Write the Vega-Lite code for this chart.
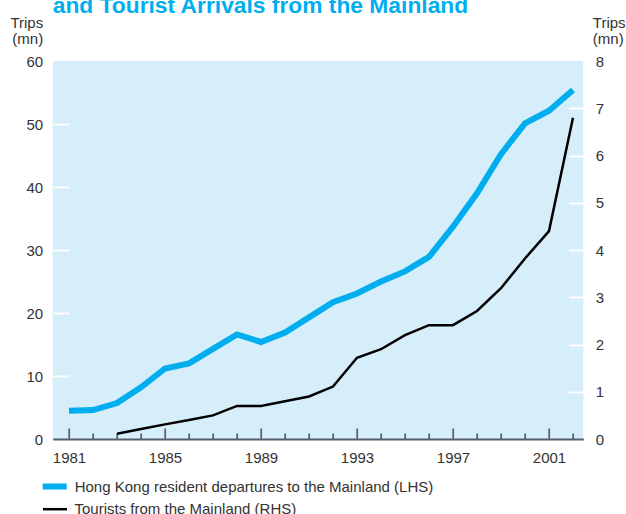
{
  "$schema": "https://vega.github.io/schema/vega-lite/v6.json",
  "width": 530.6,
  "height": 378,
  "autosize": {"type": "none"},
  "padding": {"left": 52.7, "top": 61, "right": 42.7, "bottom": 75},
  "background": "white",
  "title": {
    "text": "and Tourist Arrivals from the Mainland",
    "anchor": "start",
    "frame": "group",
    "font": "Liberation Sans",
    "fontSize": 22.8,
    "fontWeight": "bold",
    "color": "#00aeef",
    "dy": 7
  },
  "config": {
    "view": {"fill": "#d6edfa", "stroke": null},
    "font": "Liberation Sans",
    "axis": {"grid": false, "labelFont": "Liberation Sans", "labelFontSize": 15, "labelColor": "#333333", "titleFont": "Liberation Sans", "titleFontSize": 15, "titleFontWeight": "normal", "titleColor": "#333333"},
    "legend": {"labelFont": "Liberation Sans", "labelFontSize": 15, "labelColor": "#333333", "labelLimit": 600, "symbolType": "M-1.2,0H1.2", "symbolSize": 400, "title": null}
  },
  "data": {
    "values": [
      {"year": 1981, "hk": 4.5, "tour": null},
      {"year": 1982, "hk": 4.6, "tour": null},
      {"year": 1983, "hk": 5.7, "tour": 0.11},
      {"year": 1984, "hk": 8.2, "tour": 0.21},
      {"year": 1985, "hk": 11.2, "tour": 0.31},
      {"year": 1986, "hk": 12.0, "tour": 0.40},
      {"year": 1987, "hk": 14.3, "tour": 0.50},
      {"year": 1988, "hk": 16.6, "tour": 0.70},
      {"year": 1989, "hk": 15.4, "tour": 0.70},
      {"year": 1990, "hk": 16.9, "tour": 0.80},
      {"year": 1991, "hk": 19.3, "tour": 0.90},
      {"year": 1992, "hk": 21.7, "tour": 1.11},
      {"year": 1993, "hk": 23.1, "tour": 1.72},
      {"year": 1994, "hk": 25.0, "tour": 1.90},
      {"year": 1995, "hk": 26.6, "tour": 2.20},
      {"year": 1996, "hk": 28.9, "tour": 2.41},
      {"year": 1997, "hk": 33.7, "tour": 2.41},
      {"year": 1998, "hk": 39.0, "tour": 2.71},
      {"year": 1999, "hk": 45.2, "tour": 3.19},
      {"year": 2000, "hk": 50.1, "tour": 3.82},
      {"year": 2001, "hk": 52.1, "tour": 4.40},
      {"year": 2002, "hk": 55.4, "tour": 6.80}
    ]
  },
  "encoding": {
    "x": {
      "field": "year",
      "type": "quantitative",
      "scale": {"domain": [1980.32, 2002.43], "nice": false, "zero": false},
      "axis": {
        "title": null,
        "values": [1981,1982,1983,1984,1985,1986,1987,1988,1989,1990,1991,1992,1993,1994,1995,1996,1997,1998,1999,2000,2001,2002],
        "format": "d",
        "labelExpr": "(datum.value - 1981) % 4 == 0 ? datum.label : ''",
        "tickSize": {"condition": {"test": "(datum.value - 1981) % 4 == 0", "value": -11}, "value": -6},
        "tickColor": "#55616a",
        "tickWidth": 1.7,
        "domainColor": "#55616a",
        "domainWidth": 2,
        "labelPadding": 22,
        "labelFlush": false,
        "labelOverlap": false
      }
    }
  },
  "layer": [
    {
      "mark": {"type": "line", "strokeCap": "butt"},
      "encoding": {
        "y": {
          "field": "hk",
          "type": "quantitative",
          "scale": {"domain": [0, 60], "nice": false},
          "axis": {
            "orient": "left",
            "values": [0, 10, 20, 30, 40, 50, 60],
            "domain": false,
            "tickSize": -16,
            "tickColor": "white",
            "tickWidth": 2,
            "tickOpacity": {"condition": {"test": "datum.value == 0 || datum.value == 60", "value": 0}, "value": 1},
            "labelPadding": 26,
            "title": ["Trips", "(mn)"],
            "titleAngle": 0,
            "titleAlign": "right",
            "titleBaseline": "alphabetic",
            "titleX": -10,
            "titleY": -34,
            "titleLineHeight": 16
          }
        },
        "color": {"datum": "Hong Kong resident departures to the Mainland (LHS)", "type": "nominal",
          "scale": {"domain": ["Hong Kong resident departures to the Mainland (LHS)", "Tourists from the Mainland (RHS)"], "range": ["#00aeef", "#000000"]},
          "legend": {
            "values": ["Hong Kong resident departures to the Mainland (LHS)"],
            "orient": "none",
            "legendX": -11,
            "legendY": 412.5,
            "labelOffset": 7,
            "symbolStrokeWidth": 6
          }
        },
        "strokeWidth": {"datum": "Hong Kong resident departures to the Mainland (LHS)", "type": "nominal",
          "scale": {"domain": ["Tourists from the Mainland (RHS)", "Hong Kong resident departures to the Mainland (LHS)"], "range": [2.5, 6]},
          "legend": {
            "values": ["Tourists from the Mainland (RHS)"],
            "orient": "none",
            "legendX": -9.2,
            "legendY": 436.7,
            "labelOffset": 8,
            "symbolStrokeColor": "#000000"
          }
        }
      }
    },
    {
      "mark": {"type": "line", "strokeCap": "butt"},
      "encoding": {
        "y": {
          "field": "tour",
          "type": "quantitative",
          "scale": {"domain": [0, 8], "nice": false},
          "axis": {
            "orient": "right",
            "values": [0, 1, 2, 3, 4, 5, 6, 7, 8],
            "domain": false,
            "tickSize": -15,
            "tickColor": "white",
            "tickWidth": 2,
            "tickOpacity": {"condition": {"test": "datum.value == 0 || datum.value == 8", "value": 0}, "value": 1},
            "labelPadding": 27,
            "title": ["Trips", "(mn)"],
            "titleAngle": 0,
            "titleAlign": "left",
            "titleBaseline": "alphabetic",
            "titleX": 9,
            "titleY": -34,
            "titleLineHeight": 16
          }
        },
        "color": {"datum": "Tourists from the Mainland (RHS)", "type": "nominal"},
        "strokeWidth": {"datum": "Tourists from the Mainland (RHS)", "type": "nominal"}
      }
    }
  ],
  "resolve": {"scale": {"y": "independent"}}
}
